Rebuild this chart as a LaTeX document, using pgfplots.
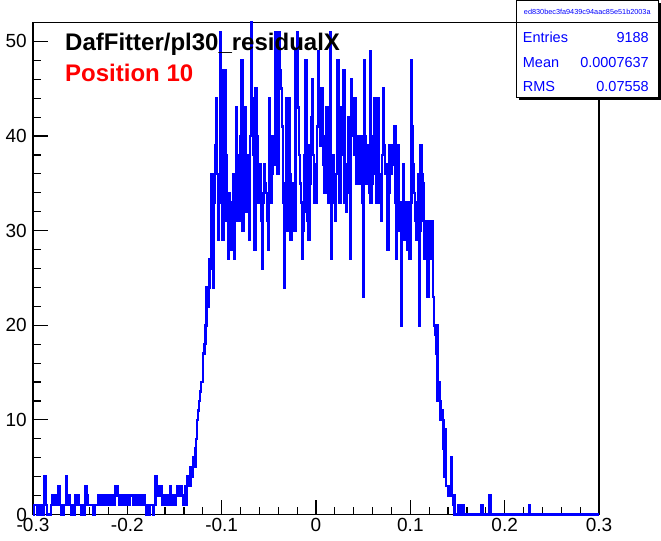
\documentclass[border=0pt]{standalone}
\usepackage{fontspec}
\setmainfont{Liberation Sans}
\usepackage{pgfplots}
\pgfplotsset{compat=1.18}
\usepackage{pgfplotstable}

% bin contents, 600 bins of 0.001 from -0.3 to 0.3 (last row closes the step)
\pgfplotstableread[row sep=\\]{
n\\
0\\1\\1\\1\\0\\1\\0\\1\\1\\0\\
0\\1\\4\\4\\1\\0\\0\\0\\0\\1\\
2\\1\\2\\1\\1\\2\\1\\3\\1\\1\\
0\\1\\0\\1\\1\\4\\2\\1\\2\\1\\
1\\0\\1\\0\\1\\2\\1\\1\\2\\1\\
1\\0\\1\\0\\0\\3\\3\\2\\1\\1\\
1\\1\\1\\1\\0\\1\\1\\1\\1\\2\\
1\\2\\1\\1\\2\\1\\2\\1\\2\\1\\
1\\1\\2\\1\\2\\1\\1\\3\\2\\3\\
2\\1\\2\\2\\1\\2\\1\\1\\2\\1\\
2\\2\\1\\2\\2\\2\\1\\2\\2\\1\\
2\\2\\2\\1\\2\\2\\1\\2\\1\\1\\
0\\1\\1\\0\\1\\1\\1\\0\\1\\1\\
4\\2\\3\\2\\2\\3\\2\\1\\2\\1\\
2\\2\\1\\2\\1\\3\\1\\2\\1\\2\\
1\\2\\2\\3\\3\\2\\2\\3\\2\\1\\
2\\3\\1\\3\\4\\4\\3\\5\\4\\5\\
6\\5\\7\\8\\10\\11\\12\\13\\14\\14\\
17\\17\\18\\20\\24\\22\\24\\27\\26\\36\\
30\\24\\33\\39\\44\\36\\29\\33\\51\\47\\
40\\29\\35\\47\\38\\31\\34\\27\\34\\30\\
28\\33\\36\\27\\31\\43\\38\\35\\31\\35\\
40\\48\\30\\36\\43\\39\\32\\38\\34\\29\\
40\\52\\44\\38\\33\\28\\45\\40\\33\\35\\
37\\34\\31\\26\\33\\37\\35\\34\\31\\28\\
44\\38\\33\\36\\40\\37\\39\\51\\42\\36\\
41\\51\\47\\45\\41\\33\\24\\35\\44\\38\\
30\\44\\36\\29\\33\\35\\32\\30\\49\\44\\
51\\43\\38\\35\\33\\27\\30\\32\\38\\48\\
39\\31\\29\\35\\39\\42\\46\\38\\33\\37\\
33\\41\\49\\43\\39\\42\\45\\40\\37\\34\\
38\\43\\37\\33\\40\\51\\27\\33\\38\\35\\
31\\36\\42\\48\\38\\33\\38\\43\\40\\47\\
33\\36\\32\\37\\42\\34\\27\\46\\41\\40\\
38\\44\\39\\35\\40\\38\\37\\35\\40\\33\\
23\\48\\40\\35\\39\\37\\34\\49\\33\\35\\
36\\40\\44\\38\\33\\44\\39\\36\\33\\31\\
38\\45\\39\\36\\37\\33\\28\\34\\39\\36\\
39\\39\\37\\41\\33\\27\\34\\39\\30\\33\\
20\\31\\37\\33\\29\\31\\33\\28\\31\\27\\
33\\48\\41\\37\\34\\31\\29\\33\\36\\20\\
30\\39\\36\\35\\31\\27\\31\\28\\23\\27\\
31\\30\\27\\31\\23\\20\\19\\17\\20\\12\\
14\\12\\10\\11\\10\\7\\4\\9\\3\\3\\
2\\3\\2\\6\\2\\1\\2\\0\\0\\0\\
0\\1\\1\\0\\1\\1\\1\\0\\0\\0\\
0\\0\\0\\0\\0\\0\\0\\0\\0\\0\\
0\\0\\0\\0\\0\\1\\1\\0\\0\\0\\
0\\0\\0\\0\\2\\0\\0\\0\\0\\0\\
0\\0\\0\\0\\0\\0\\0\\0\\0\\0\\
0\\0\\0\\0\\0\\0\\0\\0\\0\\0\\
0\\0\\0\\0\\0\\0\\0\\0\\0\\0\\
0\\0\\0\\0\\0\\0\\1\\0\\0\\0\\
0\\0\\0\\0\\0\\0\\0\\0\\0\\0\\
0\\0\\0\\0\\0\\0\\0\\0\\0\\0\\
0\\0\\0\\0\\0\\0\\0\\0\\0\\0\\
0\\0\\0\\0\\0\\0\\0\\0\\0\\0\\
0\\0\\0\\0\\0\\0\\0\\0\\0\\0\\
0\\0\\0\\0\\0\\0\\0\\0\\0\\0\\
0\\0\\0\\0\\0\\0\\0\\0\\0\\0\\
0\\
}\resid

\begin{document}
\begin{tikzpicture}[x=1bp,y=1bp]
\begin{axis}[
  at={(35,28)}, anchor=south west,
  width=566bp, height=492bp, scale only axis,
  xmin=-0.3, xmax=0.3, ymin=0, ymax=52,
  clip=false,
  xtick={-0.3,-0.2,-0.1,0,0.1,0.2,0.3},
  xticklabels={-0.3,-0.2,-0.1,0,0.1,0.2,0.3},
  ytick={0,10,20,30,40,50},
  yticklabels={0,10,20,30,40,50},
  minor x tick num=4, minor y tick num=4,
  xtick pos=left, ytick pos=left,
  tick align=inside,
  major tick length=15bp, minor tick length=7.5bp,
  every tick/.style={black, line width=1.2bp},
  axis line style={line width=1.2bp},
  tick label style={font=\fontsize{19bp}{22bp}\selectfont},
  xticklabel style={inner sep=0pt, yshift=-4bp},
  yticklabel style={inner sep=0pt, xshift=-6bp},
]
\addplot[const plot, color=blue, line width=2.5bp, mark=none]
  table[x expr={-0.3+0.001*\coordindex}, y=n] {\resid};
\end{axis}

% titles
\node[anchor=base west, inner sep=0, font=\fontsize{24bp}{28bp}\selectfont\bfseries]
  at (65,490) {DafFitter/pl30\_residualX};
\node[anchor=base west, inner sep=0, text=red, font=\fontsize{24bp}{28bp}\selectfont\bfseries]
  at (65,459) {Position 10};

% stats box
\fill[black] (519.2,440.5) rectangle (660.5,538);
\draw[fill=white, line width=1bp] (516.7,443) rectangle (658,518.3);
\draw[fill=white, line width=1bp] (516.7,518.3) rectangle (658,540.5);
\node[text=blue, inner sep=0, font=\fontsize{7.3bp}{8bp}\selectfont]
  at (587.3,529.5) {ed830bec3fa9439c94aac85e51b2003a};
\begin{scope}[every node/.style={text=blue, inner sep=0, font=\fontsize{14.5bp}{16bp}\selectfont}]
\node[anchor=base west] at (522.7,498) {Entries};
\node[anchor=base east] at (649,498) {9188};
\node[anchor=base west] at (522.7,473) {Mean};
\node[anchor=base east] at (649,473) {0.0007637};
\node[anchor=base west] at (522.7,449) {RMS};
\node[anchor=base east] at (649,449) {0.07558};
\end{scope}

\pgfresetboundingbox
\path[use as bounding box] (0,0) rectangle (661,541);
\end{tikzpicture}
\end{document}
